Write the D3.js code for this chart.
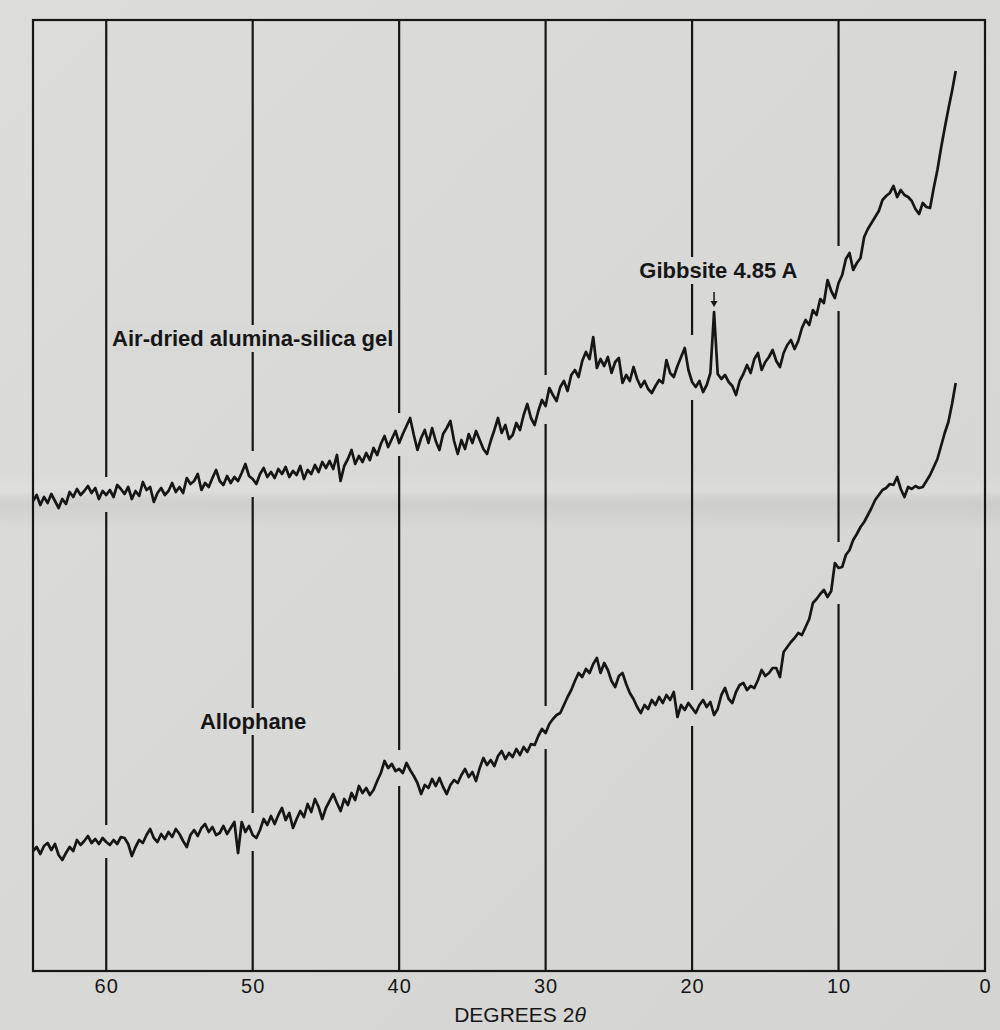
<!DOCTYPE html>
<html>
<head>
<meta charset="utf-8">
<script src="https://cdn.jsdelivr.net/npm/d3@7"></script>
<style>
  html, body { margin: 0; padding: 0; background: #d8d8d6; }
  svg { display: block; }
</style>
</head>
<body>
<div id="chart"></div>
<script>
// both traces are sampled every 0.25 degrees 2-theta, from 65 down to 2
var startAngle = 65;
var angleStep = 0.25;

// upper trace, one row per whole degree (N, N-0.25, N-0.5, N-0.75)
var gelIntensity = [
  470, 476, 466, 474,  // 65
  468, 477, 470, 463,  // 64
  472, 467, 479, 474,  // 63
  482, 476, 480, 485,  // 62
  478, 483, 472, 480,  // 61
  476, 481, 474, 486,  // 60
  482, 477, 484, 472,  // 59
  480, 475, 489, 481,  // 58
  484, 469, 478, 483,  // 57
  476, 480, 488, 479,  // 56
  484, 478, 493, 487,  // 55
  490, 497, 481, 488,  // 54
  484, 493, 501, 490,  // 53
  486, 495, 488, 494,  // 52
  490, 498, 507, 495,  // 51
  492, 487, 497, 503,  // 50
  494, 499, 493, 502,  // 49
  497, 504, 494, 500,  // 48
  496, 505, 492, 501,  // 47
  497, 506, 499, 509,  // 46
  503, 510, 502, 516,  // 45
  490, 505, 512, 521,  // 44
  507, 515, 509, 518,  // 43
  511, 523, 516, 527,  // 42
  535, 524, 532, 540,  // 41
  528, 537, 545, 553,  // 40
  536, 521, 533, 541,  // 39
  528, 543, 530, 521,  // 38
  537, 543, 550, 530,  // 37
  517, 531, 522, 537,  // 36
  528, 540, 531, 522,  // 35
  517, 530, 541, 553,  // 34
  538, 546, 532, 536,  // 33
  548, 541, 556, 567,  // 32
  553, 546, 560, 571,  // 31
  565, 583, 576, 570,  // 30
  584, 590, 580, 596,  // 29
  601, 594, 610, 619,  // 28
  612, 634, 603, 612,  // 27
  605, 614, 598, 609,  // 26
  613, 588, 596, 590,  // 25
  604, 592, 584, 590,  // 24
  582, 578, 585, 591,  // 23
  588, 611, 598, 594,  // 22
  605, 614, 623, 601,  // 21
  589, 584, 590, 579,  // 20
  586, 598, 659, 597,  // 19
  592, 596, 589, 585,  // 18
  576, 590, 597, 606,  // 17
  598, 612, 618, 601,  // 16
  609, 614, 621, 610,  // 15
  604, 618, 626, 631,  // 14
  622, 630, 643, 651,  // 13
  646, 661, 656, 672,  // 12
  668, 691, 680, 673,  // 11
  688, 696, 712, 718,  // 10
  701, 708, 713, 734,  // 9
  742, 748, 754, 760,  // 8
  771, 775, 778, 785,  // 7
  774, 781, 776, 774,  // 6
  770, 762, 757, 768,  // 5
  764, 763, 783, 801,  // 4
  823, 843, 862, 880,  // 3
  900                  // 2
];

// lower trace
var allophaneIntensity = [
  120, 124, 117, 125,  // 65
  128, 121, 127, 116,  // 64
  111, 118, 124, 120,  // 63
  131, 126, 130, 135,  // 62
  128, 132, 127, 133,  // 61
  129, 126, 131, 127,  // 60
  134, 133, 127, 115,  // 59
  124, 131, 128, 136,  // 58
  142, 133, 129, 137,  // 57
  132, 139, 134, 142,  // 56
  137, 130, 124, 136,  // 55
  141, 135, 143, 147,  // 54
  139, 144, 136, 138,  // 53
  145, 137, 143, 149,  // 52
  118, 149, 139, 145,  // 51
  136, 133, 141, 152,  // 50
  146, 155, 147, 156,  // 49
  163, 151, 158, 143,  // 48
  152, 160, 154, 167,  // 47
  159, 172, 164, 152,  // 46
  163, 170, 177, 168,  // 45
  160, 172, 166, 178,  // 44
  171, 185, 178, 183,  // 43
  176, 181, 190, 198,  // 42
  210, 203, 207, 200,  // 41
  202, 198, 208, 201,  // 40
  195, 188, 177, 186,  // 39
  183, 192, 185, 193,  // 38
  184, 177, 186, 191,  // 37
  188, 196, 202, 194,  // 36
  199, 190, 203, 213,  // 35
  206, 211, 205, 215,  // 34
  220, 212, 218, 214,  // 33
  222, 216, 224, 219,  // 32
  227, 226, 235, 242,  // 31
  238, 247, 252, 256,  // 30
  258, 266, 274, 281,  // 29
  290, 298, 294, 302,  // 28
  298, 307, 313, 298,  // 27
  308, 301, 290, 284,  // 26
  295, 298, 287, 278,  // 25
  272, 264, 258, 266,  // 24
  262, 271, 266, 274,  // 23
  268, 276, 271, 279,  // 22
  254, 266, 261, 268,  // 21
  263, 258, 266, 271,  // 20
  264, 269, 256, 262,  // 19
  276, 283, 272, 268,  // 18
  279, 286, 288, 281,  // 17
  285, 283, 291, 301,  // 16
  295, 298, 303, 303,  // 15
  294, 319, 324, 329,  // 14
  333, 338, 336, 344,  // 13
  352, 368, 372, 377,  // 12
  381, 374, 380, 408,  // 11
  403, 404, 416, 421,  // 10
  431, 437, 444, 449,  // 9
  456, 463, 471, 476,  // 8
  481, 483, 487, 486,  // 7
  494, 482, 474, 484,  // 6
  482, 485, 483, 484,  // 5
  490, 496, 504, 512,  // 4
  525, 538, 549, 567,  // 3
  588                  // 2
];

var gridAngles = [60, 50, 40, 30, 20, 10];
var tickAngles = [60, 50, 40, 30, 20, 10, 0];

var labels = [
  {text: "Air-dried alumina-silica gel", angle: 59.6, intensity: 625},
  {text: "Allophane", angle: 53.6, intensity: 242},
  {text: "Gibbsite 4.85 A", angle: 23.6, intensity: 693}
];
var gibbsiteAngle = 18.5;

function toPoints(values) {
  return values.map(function(v, i) {
    return {angle: startAngle - i * angleStep, value: v};
  });
}

function drawChart() {
  var width = 1000, height = 1030;
  var ink = "#161616";
  var paperColor = "#d8d8d6";

  var x = d3.scaleLinear().domain([65, 0]).range([33, 985]);
  var y = d3.scaleLinear().domain([0, 950]).range([971, 21]);

  var svg = d3.select("#chart").append("svg")
      .attr("width", width)
      .attr("height", height);

  //paper and the faint fold across the sheet
  var defs = svg.append("defs");
  var paper = defs.append("linearGradient").attr("id", "paper")
      .attr("x1", 0).attr("y1", 0).attr("x2", 1).attr("y2", 1);
  paper.append("stop").attr("offset", "0%").attr("stop-color", "#dcdcda");
  paper.append("stop").attr("offset", "100%").attr("stop-color", "#d4d4d2");
  var fold = defs.append("linearGradient").attr("id", "fold")
      .attr("x1", 0).attr("y1", 0).attr("x2", 0).attr("y2", 1);
  fold.append("stop").attr("offset", "0%").attr("stop-color", "#ffffff").attr("stop-opacity", 0);
  fold.append("stop").attr("offset", "35%").attr("stop-color", "#ffffff").attr("stop-opacity", 0.12);
  fold.append("stop").attr("offset", "65%").attr("stop-color", "#000000").attr("stop-opacity", 0.04);
  fold.append("stop").attr("offset", "100%").attr("stop-color", "#000000").attr("stop-opacity", 0);

  svg.append("rect").attr("width", width).attr("height", height).attr("fill", "url(#paper)");
  svg.append("rect").attr("x", 0).attr("y", 470).attr("width", width).attr("height", 60)
      .attr("fill", "url(#fold)");

  var series = [toPoints(gelIntensity), toPoints(allophaneIntensity)];

  //vertical grid lines, broken where a trace passes
  var grid = svg.append("g");
  gridAngles.forEach(function(g) {
    var gaps = series.map(function(pts) {
      var near = pts.filter(function(p) { return Math.abs(p.angle - g) <= 0.6; });
      var ext = d3.extent(near, function(p) { return p.value; });
      return [y(ext[1]) - 13, y(ext[0]) + 13];
    }).sort(function(a, b) { return a[0] - b[0]; });

    var top = y.range()[1], segs = [];
    gaps.forEach(function(gap) {
      segs.push([top, gap[0]]);
      top = gap[1];
    });
    segs.push([top, y.range()[0]]);

    grid.selectAll(null)
        .data(segs)
        .enter()
        .append("line")
        .attr("x1", x(g)).attr("x2", x(g))
        .attr("y1", function(d) { return d[0]; })
        .attr("y2", function(d) { return d[1]; })
        .style("stroke", ink)
        .style("stroke-width", 2.2);
  });

  //frame
  svg.append("rect")
      .attr("x", x.range()[0]).attr("y", y.range()[1] - 1)
      .attr("width", x.range()[1] - x.range()[0])
      .attr("height", y.range()[0] - y.range()[1] + 1)
      .attr("fill", "none")
      .style("stroke", ink)
      .style("stroke-width", 2.2);

  //traces
  var line = d3.line()
      .x(function(d) { return x(d.angle); })
      .y(function(d) { return y(d.value); });

  svg.selectAll("path.trace")
      .data(series)
      .enter()
      .append("path")
      .attr("class", "trace")
      .attr("d", line)
      .attr("fill", "none")
      .style("stroke", ink)
      .style("stroke-width", 2.7)
      .style("stroke-linejoin", "round");

  //labels, with a patch of paper behind them so the grid lines stop
  labels.forEach(function(l) {
    var g = svg.append("g");
    var t = g.append("text")
        .attr("x", x(l.angle))
        .attr("y", y(l.intensity))
        .attr("font-family", "'Liberation Sans', Arial, sans-serif")
        .attr("font-weight", "bold")
        .attr("font-size", 22)
        .attr("fill", ink)
        .text(l.text);
    var box = t.node().getBBox();
    g.insert("rect", "text")
        .attr("x", box.x - 2).attr("y", box.y - 1)
        .attr("width", box.width + 4).attr("height", box.height + 2)
        .attr("fill", paperColor);
  });

  //arrow down to the gibbsite peak
  var peak = series[0].find(function(p) { return p.angle === gibbsiteAngle; });
  var ax = x(gibbsiteAngle), tip = y(peak.value) - 5;
  svg.append("line")
      .attr("x1", ax).attr("x2", ax)
      .attr("y1", tip - 15).attr("y2", tip - 4)
      .style("stroke", ink)
      .style("stroke-width", 1.5);
  svg.append("path")
      .attr("d", "M" + (ax - 3.5) + "," + (tip - 6) + "L" + (ax + 3.5) + "," + (tip - 6) + "L" + ax + "," + tip + "Z")
      .attr("fill", ink);

  //bottom axis labels
  var axis = svg.append("g")
      .attr("transform", "translate(0," + y.range()[0] + ")")
      .call(d3.axisBottom(x).tickValues(tickAngles).tickSize(0).tickPadding(8).tickFormat(d3.format("d")))
      .attr("font-family", "'Liberation Sans', Arial, sans-serif")
      .attr("font-size", 20);
  axis.select(".domain").remove();
  axis.selectAll("text").attr("fill", ink).attr("letter-spacing", 1);

  var title = svg.append("text")
      .attr("x", (x.range()[0] + x.range()[1]) / 2 + 11)
      .attr("y", 1022)
      .attr("text-anchor", "middle")
      .attr("font-family", "'Liberation Sans', Arial, sans-serif")
      .attr("font-size", 21)
      .attr("fill", ink);
  title.append("tspan").text("DEGREES 2");
  title.append("tspan").attr("font-style", "italic").text("\u03b8");
}

document.addEventListener("DOMContentLoaded", drawChart);
</script>
</body>
</html>
